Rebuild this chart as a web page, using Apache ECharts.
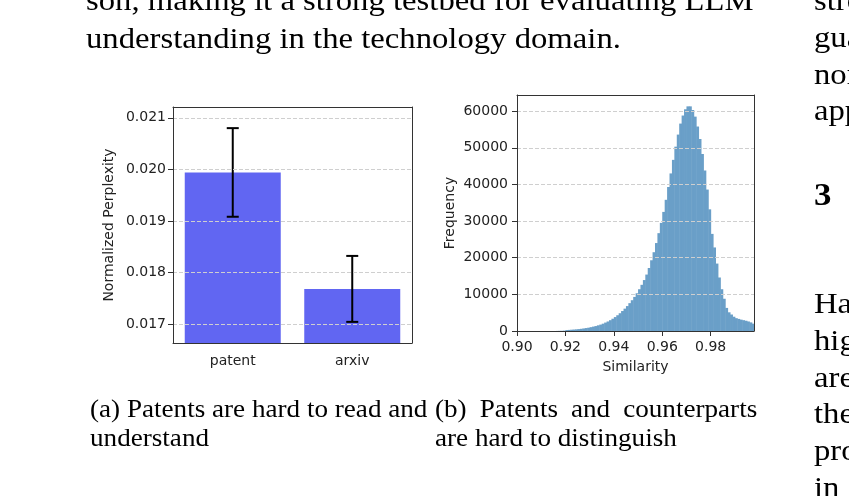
<!DOCTYPE html>
<html>
<head>
<meta charset="utf-8">
<script src="https://cdn.jsdelivr.net/npm/echarts@6/dist/echarts.min.js"></script>
<style>
  html, body { margin: 0; padding: 0; background: #fff; overflow: hidden; }
  #page { position: relative; width: 849px; height: 496px; overflow: hidden; }
  #chart { position: absolute; left: 0; top: 0; width: 849px; height: 496px; }
  .t { position: absolute; white-space: nowrap; font-family: "Liberation Serif", serif; color: #000;
       font-size: 30px; line-height: 30px; transform: scaleX(1.09); transform-origin: 0 0; }
  .cap { font-size: 25px; line-height: 25px; transform: scaleX(1.085); }
</style>
</head>
<body>
<div id="page">
  <div id="chart"></div>
  <!-- body text around the figure -->
  <div class="t" style="left:86px; top:-15px">son, making it a strong testbed for evaluating LLM</div>
  <div class="t" style="left:86px; top:22.5px">understanding in the technology domain.</div>
  <div class="t" style="left:814px; top:-15px">stro</div>
  <div class="t" style="left:814px; top:22px">gua</div>
  <div class="t" style="left:814px; top:58.5px">non</div>
  <div class="t" style="left:814px; top:95px">appr</div>
  <div class="t" style="left:814px; top:178px; font-size:32px; line-height:32px; font-weight:bold">3</div>
  <div class="t" style="left:814px; top:288px">Har</div>
  <div class="t" style="left:814px; top:325px">high</div>
  <div class="t" style="left:814px; top:361.5px">area</div>
  <div class="t" style="left:814px; top:398px">them</div>
  <div class="t" style="left:814px; top:435px">proc</div>
  <div class="t" style="left:814px; top:471.5px">in</div>
  <!-- sub-captions -->
  <div class="t cap" style="left:90px; top:395.5px">(a) Patents are hard to read and</div>
  <div class="t cap" style="left:90px; top:424.5px">understand</div>
  <div class="t cap" style="left:435px; top:395.5px; width:297px; text-align:justify; text-align-last:justify; white-space:normal">(b) Patents and counterparts</div>
  <div class="t cap" style="left:435px; top:424.5px">are hard to distinguish</div>
</div>

<script>
// (a) normalized perplexity
var perpCats = ['patent', 'arxiv'];
var perpMean = [0.01994, 0.01768];
var perpErr = [0.00086, 0.00064];
var perpTicks = [0.017, 0.018, 0.019, 0.020, 0.021];

// (b) similarity histogram, bins of 0.001 starting at 0.900
var simBinStart = 0.900;
var simBinWidth = 0.001;
var simFreq = [
  0, 0, 0, 0, 0, 0, 0, 0, 0, 0,
  0, 0, 0, 0, 0, 0, 20, 40, 60, 90,
  250, 300, 350, 400, 450, 520, 600, 700, 800, 900,
  1050, 1200, 1350, 1550, 1750, 2000, 2300, 2600, 2950, 3350,
  3800, 4300, 4850, 5450, 6100, 6800, 7600, 8400, 9300, 10300,
  11400, 12600, 13900, 15400, 17200, 19300, 21500, 24000, 26700, 29500,
  32500, 35800, 39300, 43000, 46700, 50300, 53600, 56600, 58800, 60500,
  61300, 61300, 60300, 58500, 55800, 52400, 48300, 43800, 38600, 33200,
  26500, 22800, 18400, 14600, 11400, 8800, 6300, 5100, 4500, 3900,
  3500, 3300, 3100, 2950, 2800, 2600, 2350, 2000
];
var simXTicks = [0.90, 0.92, 0.94, 0.96, 0.98];
var simYTicks = [0, 10000, 20000, 30000, 40000, 50000, 60000];

var font = 'DejaVu Sans';
var txt = '#222';
var spine = '#333';
var gridLine = { show: true, lineStyle: { color: '#cfcfcf', type: [4, 2], width: 1 } };

// extra axes that only draw the top / right spines of a panel
function frameAxis(pos, gi) {
  return {
    type: 'value', gridIndex: gi, position: pos, z: 10,
    axisLine: { show: true, onZero: false, lineStyle: { color: spine, width: 1 } },
    axisTick: { show: false }, axisLabel: { show: false }, splitLine: { show: false }
  };
}

var errData = perpMean.map(function (m, i) { return [i, m - perpErr[i], m + perpErr[i]]; });
var histData = simFreq.map(function (f, i) {
  return [simBinStart + i * simBinWidth, simBinStart + (i + 1) * simBinWidth, f];
});

var chart = echarts.init(document.getElementById('chart'));
chart.setOption({
  animation: false,
  grid: [
    { left: 173, top: 107, width: 239, height: 236 },
    { left: 517, top: 95, width: 237, height: 236 }
  ],
  xAxis: [
    {
      type: 'category', gridIndex: 0, data: perpCats, z: 10,
      axisLine: { lineStyle: { color: spine, width: 1 } },
      axisTick: { alignWithLabel: true, length: 5, lineStyle: { color: spine } },
      axisLabel: { color: txt, fontFamily: font, fontSize: 14, margin: 11 }
    },
    {
      type: 'value', gridIndex: 1, min: 0.9, max: 0.9979, z: 10,
      name: 'Similarity', nameLocation: 'middle', nameGap: 29,
      nameTextStyle: { color: txt, fontFamily: font, fontSize: 14 },
      axisLine: { onZero: false, lineStyle: { color: spine, width: 1 } },
      axisTick: { length: 5, customValues: simXTicks, lineStyle: { color: spine } },
      axisLabel: { customValues: simXTicks, color: txt, fontFamily: font, fontSize: 14, margin: 9,
        formatter: function (v) { return v.toFixed(2); } },
      splitLine: { show: false }
    },
    frameAxis('top', 0), frameAxis('top', 1)
  ],
  yAxis: [
    {
      type: 'value', gridIndex: 0, min: 0.01663, max: 0.02121, z: 10,
      name: 'Normalized Perplexity', nameLocation: 'middle', nameGap: 57,
      nameTextStyle: { color: txt, fontFamily: font, fontSize: 14 },
      axisLine: { show: true, onZero: false, lineStyle: { color: spine, width: 1 } },
      axisTick: { show: true, length: 5, customValues: perpTicks, lineStyle: { color: spine } },
      axisLabel: { customValues: perpTicks, color: txt, fontFamily: font, fontSize: 14, margin: 7,
        formatter: function (v) { return v.toFixed(3); } },
      splitLine: gridLine
    },
    {
      type: 'value', gridIndex: 1, min: 0, max: 64400, z: 10,
      name: 'Frequency', nameLocation: 'middle', nameGap: 60,
      nameTextStyle: { color: txt, fontFamily: font, fontSize: 14 },
      axisLine: { show: true, onZero: false, lineStyle: { color: spine, width: 1 } },
      axisTick: { show: true, length: 5, customValues: simYTicks, lineStyle: { color: spine } },
      axisLabel: { customValues: simYTicks, color: txt, fontFamily: font, fontSize: 14, margin: 9,
        formatter: function (v) { return String(v); } },
      splitLine: gridLine
    },
    frameAxis('right', 0), frameAxis('right', 1)
  ],
  series: [
    {
      type: 'bar', xAxisIndex: 0, yAxisIndex: 0, data: perpMean, barWidth: 96,
      itemStyle: { color: '#6166f2' }
    },
    {
      // error bars
      type: 'custom', xAxisIndex: 0, yAxisIndex: 0, data: errData, z: 5,
      encode: { x: 0, y: [1, 2] },
      renderItem: function (params, api) {
        var lo = api.coord([api.value(0), api.value(1)]);
        var hi = api.coord([api.value(0), api.value(2)]);
        var cap = 6;
        var st = { stroke: '#000', lineWidth: 2 };
        return {
          type: 'group', children: [
            { type: 'line', shape: { x1: lo[0], y1: lo[1], x2: hi[0], y2: hi[1] }, style: st },
            { type: 'line', shape: { x1: lo[0] - cap, y1: lo[1], x2: lo[0] + cap, y2: lo[1] }, style: st },
            { type: 'line', shape: { x1: hi[0] - cap, y1: hi[1], x2: hi[0] + cap, y2: hi[1] }, style: st }
          ]
        };
      }
    },
    {
      // histogram bins
      type: 'custom', xAxisIndex: 1, yAxisIndex: 1, data: histData, clip: true,
      encode: { x: [0, 1], y: 2 },
      renderItem: function (params, api) {
        var p0 = api.coord([api.value(0), api.value(2)]);
        var p1 = api.coord([api.value(1), 0]);
        return {
          type: 'rect',
          shape: { x: p0[0], y: p0[1], width: p1[0] - p0[0] + 0.5, height: p1[1] - p0[1] },
          style: { fill: '#6a9fc8' }
        };
      }
    }
  ]
});
</script>
</body>
</html>
